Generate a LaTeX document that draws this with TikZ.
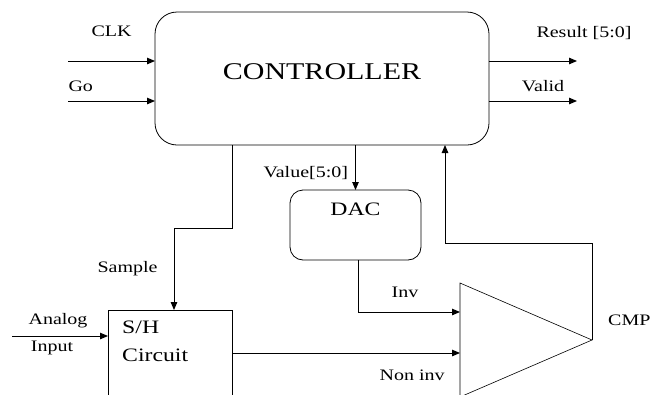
\documentclass[tikz,border=0pt]{standalone}
\usepackage{fontspec}
\setmainfont{Liberation Serif}[FakeStretch=1.25]
\usetikzlibrary{arrows.meta,positioning,shapes.geometric}

\begin{document}
\begin{tikzpicture}[
  x=1pt, y=-1pt,
  block/.style={draw, line width=0.8pt, inner sep=0pt, outer sep=0pt},
  ctrlbox/.style={block, rounded corners=22pt, minimum width=334pt, minimum height=133pt},
  dacbox/.style={block, rounded corners=13pt, minimum width=131pt, minimum height=70pt},
  shbox/.style={block, minimum width=124pt, minimum height=110pt},
  cmpbox/.style={block, line width=0.6pt, isosceles triangle, isosceles triangle stretches, minimum width=114pt, minimum height=132pt},
  lbl/.style={inner sep=0pt, font=\fontsize{16}{19}\selectfont},
  arrow/.style={-{Triangle[length=8pt, width=6.5pt]}, line width=1pt},
]
  \useasboundingbox (0,0) rectangle (651,394);
  \clip (0,0) rectangle (651,394);

  \node[ctrlbox, label={[inner sep=0pt, font=\fontsize{24}{28}\selectfont, yshift=6.5pt]center:CONTROLLER}] (ctrl) at (322,78.5) {};
  \node[dacbox, label={[inner sep=0pt, font=\fontsize{19}{22}\selectfont, anchor=north, yshift=-13pt]north:DAC}] (dac) at (355.5,225) {};
  \node[shbox, label={[inner sep=0pt, font=\fontsize{19}{28}\selectfont, align=left, anchor=north west, xshift=14pt, yshift=-11pt]north west:S/H\\Circuit}] (sh) at (170,365) {};
  \node[cmpbox, anchor=apex] (cmp) at (592,340) {};

  \coordinate (clkin) at (68,61);
  \coordinate (goin) at (68,101);
  \coordinate (resout) at (577,61);
  \coordinate (valout) at (577,101);
  \coordinate (ain) at (12,336);
  \coordinate (inv) at (460,312);
  \coordinate (ninv) at (460,353);

  \draw[arrow] (clkin) -- (clkin -| ctrl.west) node[lbl, midway, above=24pt] (clklbl) {CLK};
  \draw[arrow] (goin) -- (goin -| ctrl.west) node[lbl, pos=0, above right=9pt and 0pt] (golbl) {Go};
  \draw[arrow] (ctrl.east |- resout) -- (resout) node[lbl, pos=1, above=21pt, xshift=7pt] (reslbl) {Result [5:0]};
  \draw[arrow] (ctrl.east |- valout) -- (valout) node[lbl, midway, above=9pt, xshift=10pt] (vallbl) {Valid};

  \draw[arrow] (ctrl.south -| dac.north) -- (dac.north) node[lbl, pos=0.62, left=7pt] (valuelbl) {Value[5:0]};
  \draw[arrow] (ctrl.south -| sh.east) -- ++(0,83) -| ([xshift=4pt]sh.north) node[lbl, pos=0.75, left=16pt] (smplbl) {Sample};

  \draw[arrow] ([xshift=2.5pt]dac.south) |- (inv) node[lbl, pos=0.75, above=14pt, xshift=-4pt] (invlbl) {Inv};
  \draw[arrow] (sh.east |- ninv) -- (ninv) node[lbl, pos=0.79, below=16pt] (ninvlbl) {Non inv};
  \draw[arrow] (cmp.apex) -- ++(0,-97) -| (ctrl.south -| 445,0);

  \draw[arrow] (ain) -- (ain -| sh.west)
    node[lbl, midway, above=8pt, xshift=-2pt] (analbl) {Analog}
    node[lbl, midway, below=5pt, xshift=-8pt] (inplbl) {Input};

  \node[lbl, above right=14pt and 16pt of cmp.apex] (cmplbl) {CMP};
\end{tikzpicture}
\end{document}
